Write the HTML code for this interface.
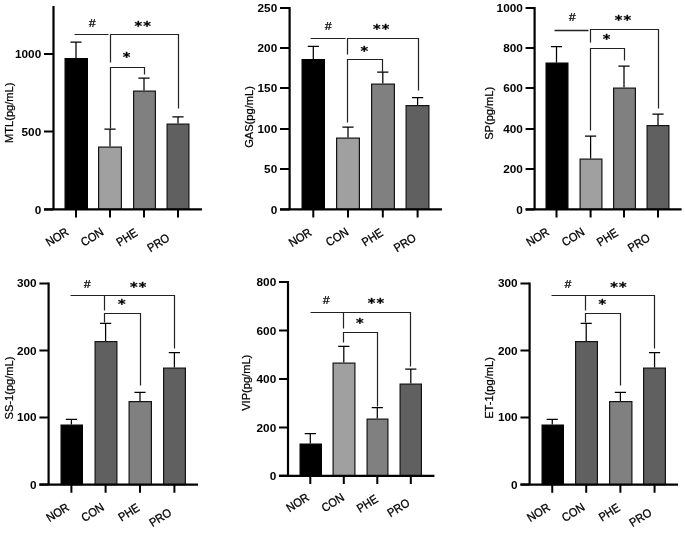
<!DOCTYPE html>
<html lang="en"><head><meta charset="utf-8"><title>Figure</title>
<style>
html,body{margin:0;padding:0;background:#fff;}
svg{display:block;}
text{font-family:"Liberation Sans",sans-serif;fill:#000;}
.yt{font-size:11.8px;font-weight:bold;}
.ti{font-size:11.1px;stroke:#000;stroke-width:0.25px;}
.xl{font-size:11.6px;stroke:#000;stroke-width:0.3px;}
.hs{font-size:10px;font-style:italic;stroke:#000;stroke-width:0.25px;}
.as{font-family:"DejaVu Sans","Liberation Sans",sans-serif;font-weight:bold;font-size:14.6px;letter-spacing:1.1px;stroke:#000;stroke-width:0.35px;}
</style></head><body>
<svg width="685" height="533" viewBox="0 0 685 533">
<rect width="685" height="533" fill="#fff"/>
<path d="M70.4 42H81.6M76 42V58" stroke="#000" stroke-width="1.25" fill="none"/>
<rect x="65.1" y="58.6" width="22.3" height="150.8" fill="#000000" stroke="#000000" stroke-width="1.2"/>
<path d="M104.4 129.2H115.6M110 129.2V146.4" stroke="#000" stroke-width="1.25" fill="none"/>
<rect x="98.6" y="147.1" width="22.8" height="62.3" fill="#a0a0a0" stroke="#141414" stroke-width="1.2"/>
<path d="M138.4 78H149.6M144 78V90.4" stroke="#000" stroke-width="1.25" fill="none"/>
<rect x="133.6" y="91.1" width="21.8" height="118.3" fill="#808080" stroke="#141414" stroke-width="1.2"/>
<path d="M172.4 116.8H183.6M178 116.8V123.4" stroke="#000" stroke-width="1.25" fill="none"/>
<rect x="167.1" y="124.1" width="21.8" height="85.3" fill="#606060" stroke="#141414" stroke-width="1.2"/>
<path d="M53.5 6V210.5M44 209.4H202" stroke="#000" stroke-width="2.2" fill="none"/>
<path d="M44 54H53.5M44 131.6H53.5M44 209.4H53.5M76 209.4V217.6M110 209.4V217.6M144 209.4V217.6M178 209.4V217.6" stroke="#000" stroke-width="2" fill="none"/>
<text class="yt" transform="translate(41.2 58.4) scale(1 0.93)" text-anchor="end">1000</text>
<text class="yt" transform="translate(41.2 136) scale(1 0.93)" text-anchor="end">500</text>
<text class="yt" transform="translate(41.2 213.8) scale(1 0.93)" text-anchor="end">0</text>
<text class="ti" transform="translate(12.8 112.75) rotate(-90)" text-anchor="middle">MTL(pg/mL)</text>
<text class="xl" transform="translate(69.5 234) rotate(-32) scale(0.94 1.03)" text-anchor="end">NOR</text>
<text class="xl" transform="translate(104.5 234) rotate(-32) scale(0.94 1.03)" text-anchor="end">CON</text>
<text class="xl" transform="translate(138.5 235) rotate(-32) scale(0.94 1.03)" text-anchor="end">PHE</text>
<text class="xl" transform="translate(170.5 240) rotate(-32) scale(0.94 1.03)" text-anchor="end">PRO</text>
<path d="M74.5 34.5H108.5" stroke="#222222" stroke-width="1.2" fill="none"/>
<path d="M110.5 62.5V34.5H178.5V108.5" stroke="#222222" stroke-width="1.2" fill="none"/>
<path d="M110.5 128.5V67.5H144.5V74.5" stroke="#222222" stroke-width="1.2" fill="none"/>
<text class="hs" transform="translate(92 26.6) scale(1.2 1.0)" text-anchor="middle">#</text>
<text class="as" transform="translate(143.25 29.6) scale(1 0.88)" text-anchor="middle">**</text>
<text class="as" transform="translate(127.05 61.1) scale(1 0.88)" text-anchor="middle">*</text>
<path d="M307.7 46.4H318.9M313.3 46.4V59" stroke="#000" stroke-width="1.25" fill="none"/>
<rect x="302.1" y="59.6" width="22.3" height="149.8" fill="#000000" stroke="#000000" stroke-width="1.2"/>
<path d="M342.4 127H353.6M348 127V137.4" stroke="#000" stroke-width="1.25" fill="none"/>
<rect x="336.6" y="138.1" width="22.8" height="71.3" fill="#a0a0a0" stroke="#141414" stroke-width="1.2"/>
<path d="M377.2 72H388.4M382.8 72V83.4" stroke="#000" stroke-width="1.25" fill="none"/>
<rect x="371.6" y="84.1" width="22.8" height="125.3" fill="#808080" stroke="#141414" stroke-width="1.2"/>
<path d="M412 97.6H423.2M417.6 97.6V105" stroke="#000" stroke-width="1.25" fill="none"/>
<rect x="406.1" y="105.6" width="22.8" height="103.8" fill="#606060" stroke="#141414" stroke-width="1.2"/>
<path d="M289.6 7V210.5M280 209.4H442" stroke="#000" stroke-width="2.2" fill="none"/>
<path d="M280 8H289.6M280 48H289.6M280 88H289.6M280 129H289.6M280 169H289.6M280 209.4H289.6M313.3 209.4V217.6M348 209.4V217.6M382.8 209.4V217.6M417.6 209.4V217.6" stroke="#000" stroke-width="2" fill="none"/>
<text class="yt" transform="translate(277.2 12.4) scale(1 0.93)" text-anchor="end">250</text>
<text class="yt" transform="translate(277.2 52.4) scale(1 0.93)" text-anchor="end">200</text>
<text class="yt" transform="translate(277.2 92.4) scale(1 0.93)" text-anchor="end">150</text>
<text class="yt" transform="translate(277.2 133.4) scale(1 0.93)" text-anchor="end">100</text>
<text class="yt" transform="translate(277.2 173.4) scale(1 0.93)" text-anchor="end">50</text>
<text class="yt" transform="translate(277.2 213.8) scale(1 0.93)" text-anchor="end">0</text>
<text class="ti" transform="translate(252.8 117) rotate(-90)" text-anchor="middle">GAS(pg/mL)</text>
<text class="xl" transform="translate(312.5 234.5) rotate(-32) scale(0.94 1.03)" text-anchor="end">NOR</text>
<text class="xl" transform="translate(349.5 234) rotate(-32) scale(0.94 1.03)" text-anchor="end">CON</text>
<text class="xl" transform="translate(384 235) rotate(-32) scale(0.94 1.03)" text-anchor="end">PHE</text>
<text class="xl" transform="translate(417 240) rotate(-32) scale(0.94 1.03)" text-anchor="end">PRO</text>
<path d="M310.5 38.5H345.5" stroke="#222222" stroke-width="1.2" fill="none"/>
<path d="M347.5 54.5V38.5H418.5V90.5" stroke="#222222" stroke-width="1.2" fill="none"/>
<path d="M347.5 122.5V59.5H382.5V72.5" stroke="#222222" stroke-width="1.2" fill="none"/>
<text class="hs" transform="translate(328.2 30) scale(1.2 1.0)" text-anchor="middle">#</text>
<text class="as" transform="translate(381.75 32.7) scale(1 0.88)" text-anchor="middle">**</text>
<text class="as" transform="translate(364.95 54.7) scale(1 0.88)" text-anchor="middle">*</text>
<path d="M550.9 46.6H562.1M556.5 46.6V62.6" stroke="#000" stroke-width="1.25" fill="none"/>
<rect x="546.1" y="63.1" width="21.8" height="146.3" fill="#000000" stroke="#000000" stroke-width="1.2"/>
<path d="M585 136H596.2M590.6 136V158.4" stroke="#000" stroke-width="1.25" fill="none"/>
<rect x="580.1" y="159.1" width="21.8" height="50.3" fill="#a0a0a0" stroke="#141414" stroke-width="1.2"/>
<path d="M618.4 66H629.6M624 66V87.6" stroke="#000" stroke-width="1.25" fill="none"/>
<rect x="613.6" y="88.1" width="21.8" height="121.3" fill="#808080" stroke="#141414" stroke-width="1.2"/>
<path d="M652.4 114H663.6M658 114V125" stroke="#000" stroke-width="1.25" fill="none"/>
<rect x="647.1" y="125.6" width="21.8" height="83.8" fill="#606060" stroke="#141414" stroke-width="1.2"/>
<path d="M534.6 7V210.5M525.6 209.4H681.6" stroke="#000" stroke-width="2.2" fill="none"/>
<path d="M525.6 8H534.6M525.6 48H534.6M525.6 88H534.6M525.6 129H534.6M525.6 169H534.6M525.6 209.4H534.6M556.5 209.4V217.6M590.6 209.4V217.6M624 209.4V217.6M658 209.4V217.6" stroke="#000" stroke-width="2" fill="none"/>
<text class="yt" transform="translate(522.8 12.4) scale(1 0.93)" text-anchor="end">1000</text>
<text class="yt" transform="translate(522.8 52.4) scale(1 0.93)" text-anchor="end">800</text>
<text class="yt" transform="translate(522.8 92.4) scale(1 0.93)" text-anchor="end">600</text>
<text class="yt" transform="translate(522.8 133.4) scale(1 0.93)" text-anchor="end">400</text>
<text class="yt" transform="translate(522.8 173.4) scale(1 0.93)" text-anchor="end">200</text>
<text class="yt" transform="translate(522.8 213.8) scale(1 0.93)" text-anchor="end">0</text>
<text class="ti" transform="translate(493.3 113.3) rotate(-90)" text-anchor="middle">SP(pg/mL)</text>
<text class="xl" transform="translate(550 234) rotate(-32) scale(0.94 1.03)" text-anchor="end">NOR</text>
<text class="xl" transform="translate(585.5 234) rotate(-32) scale(0.94 1.03)" text-anchor="end">CON</text>
<text class="xl" transform="translate(619 235) rotate(-32) scale(0.94 1.03)" text-anchor="end">PHE</text>
<text class="xl" transform="translate(651 240) rotate(-32) scale(0.94 1.03)" text-anchor="end">PRO</text>
<path d="M554.5 30.5H588.5" stroke="#222222" stroke-width="1.5" fill="none"/>
<path d="M590.5 42.5V29.5H658.5V108.5" stroke="#222222" stroke-width="1.2" fill="none"/>
<path d="M590.5 130.5V48.5H624.5V60.5" stroke="#222222" stroke-width="1.2" fill="none"/>
<text class="hs" transform="translate(572 21) scale(1.2 1.0)" text-anchor="middle">#</text>
<text class="as" transform="translate(623.45 24.3) scale(1 0.88)" text-anchor="middle">**</text>
<text class="as" transform="translate(607.15 43.3) scale(1 0.88)" text-anchor="middle">*</text>
<path d="M65.8 419.4H77M71.4 419.4V424.6" stroke="#000" stroke-width="1.25" fill="none"/>
<rect x="61.1" y="425.1" width="21.3" height="59.5" fill="#000000" stroke="#000000" stroke-width="1.2"/>
<path d="M100 323.4H111.2M105.6 323.4V341" stroke="#000" stroke-width="1.25" fill="none"/>
<rect x="95.1" y="341.6" width="21.8" height="143" fill="#606060" stroke="#141414" stroke-width="1.2"/>
<path d="M134.4 392.4H145.6M140 392.4V401" stroke="#000" stroke-width="1.25" fill="none"/>
<rect x="129.1" y="401.6" width="22.3" height="83" fill="#808080" stroke="#141414" stroke-width="1.2"/>
<path d="M168.8 352.6H180M174.4 352.6V367.5" stroke="#000" stroke-width="1.25" fill="none"/>
<rect x="163.6" y="368.1" width="21.8" height="116.5" fill="#606060" stroke="#141414" stroke-width="1.2"/>
<path d="M48.6 282.4V485.7M39.4 484.6H198" stroke="#000" stroke-width="2.2" fill="none"/>
<path d="M39.4 283.4H48.6M39.4 350.6H48.6M39.4 417.4H48.6M39.4 484.6H48.6M71.4 484.6V492.8M105.6 484.6V492.8M140 484.6V492.8M174.4 484.6V492.8" stroke="#000" stroke-width="2" fill="none"/>
<text class="yt" transform="translate(36.6 287.3) scale(1 0.93)" text-anchor="end">300</text>
<text class="yt" transform="translate(36.6 354.5) scale(1 0.93)" text-anchor="end">200</text>
<text class="yt" transform="translate(36.6 421.3) scale(1 0.93)" text-anchor="end">100</text>
<text class="yt" transform="translate(36.6 488.5) scale(1 0.93)" text-anchor="end">0</text>
<text class="ti" transform="translate(13.1 388) rotate(-90)" text-anchor="middle">SS-1(pg/mL)</text>
<text class="xl" transform="translate(70 509.5) rotate(-32) scale(0.94 1.03)" text-anchor="end">NOR</text>
<text class="xl" transform="translate(105 509.3) rotate(-32) scale(0.94 1.03)" text-anchor="end">CON</text>
<text class="xl" transform="translate(140.5 510) rotate(-32) scale(0.94 1.03)" text-anchor="end">PHE</text>
<text class="xl" transform="translate(172.4 514.8) rotate(-32) scale(0.94 1.03)" text-anchor="end">PRO</text>
<path d="M70.5 295.5H174.5V348.5" stroke="#222222" stroke-width="1.2" fill="none"/>
<path d="M104.5 295.5V310.5" stroke="#222222" stroke-width="1.2" fill="none"/>
<path d="M104.5 322.5V313.5H140.5V385.5" stroke="#222222" stroke-width="1.2" fill="none"/>
<text class="hs" transform="translate(87.2 288) scale(1.2 1.0)" text-anchor="middle">#</text>
<text class="as" transform="translate(138.65 290.7) scale(1 0.88)" text-anchor="middle">**</text>
<text class="as" transform="translate(122.25 308.3) scale(1 0.88)" text-anchor="middle">*</text>
<path d="M304.7 433.6H315.9M310.3 433.6V443.4" stroke="#000" stroke-width="1.25" fill="none"/>
<rect x="300.1" y="444.1" width="21.3" height="31.7" fill="#000000" stroke="#000000" stroke-width="1.2"/>
<path d="M338.2 346.4H349.4M343.8 346.4V362.6" stroke="#000" stroke-width="1.25" fill="none"/>
<rect x="333.1" y="363.1" width="21.8" height="112.7" fill="#a0a0a0" stroke="#141414" stroke-width="1.2"/>
<path d="M371.7 407.6H382.9M377.3 407.6V418.4" stroke="#000" stroke-width="1.25" fill="none"/>
<rect x="367.1" y="419.1" width="20.8" height="56.7" fill="#808080" stroke="#141414" stroke-width="1.2"/>
<path d="M405.2 369H416.4M410.8 369V383.4" stroke="#000" stroke-width="1.25" fill="none"/>
<rect x="400.1" y="384.1" width="21.3" height="91.7" fill="#606060" stroke="#141414" stroke-width="1.2"/>
<path d="M288 281V476.9M279 475.8H434.4" stroke="#000" stroke-width="2.2" fill="none"/>
<path d="M279 282H288M279 330.4H288M279 379H288M279 427.6H288M279 475.8H288M310.3 475.8V484M343.8 475.8V484M377.3 475.8V484M410.8 475.8V484" stroke="#000" stroke-width="2" fill="none"/>
<text class="yt" transform="translate(276.2 286.4) scale(1 0.93)" text-anchor="end">800</text>
<text class="yt" transform="translate(276.2 334.8) scale(1 0.93)" text-anchor="end">600</text>
<text class="yt" transform="translate(276.2 383.4) scale(1 0.93)" text-anchor="end">400</text>
<text class="yt" transform="translate(276.2 432) scale(1 0.93)" text-anchor="end">200</text>
<text class="yt" transform="translate(276.2 480.2) scale(1 0.93)" text-anchor="end">0</text>
<text class="ti" transform="translate(250.2 382.8) rotate(-90)" text-anchor="middle">VIP(pg/mL)</text>
<text class="xl" transform="translate(310 499.6) rotate(-32) scale(0.94 1.03)" text-anchor="end">NOR</text>
<text class="xl" transform="translate(345.2 499.6) rotate(-32) scale(0.94 1.03)" text-anchor="end">CON</text>
<text class="xl" transform="translate(378.9 501.2) rotate(-32) scale(0.94 1.03)" text-anchor="end">PHE</text>
<text class="xl" transform="translate(410.6 505) rotate(-32) scale(0.94 1.03)" text-anchor="end">PRO</text>
<path d="M310.5 312.5H410.5V366.5" stroke="#222222" stroke-width="1.2" fill="none"/>
<path d="M343.5 312.5V328.5" stroke="#222222" stroke-width="1.2" fill="none"/>
<path d="M343.5 342.5V332.5H377.5V406.5" stroke="#222222" stroke-width="1.2" fill="none"/>
<text class="hs" transform="translate(326.2 304.4) scale(1.2 1.0)" text-anchor="middle">#</text>
<text class="as" transform="translate(376.45 307.3) scale(1 0.88)" text-anchor="middle">**</text>
<text class="as" transform="translate(360.45 327.3) scale(1 0.88)" text-anchor="middle">*</text>
<path d="M546.65 419.4H557.85M552.25 419.4V424.6" stroke="#000" stroke-width="1.25" fill="none"/>
<rect x="542.1" y="425.1" width="21.3" height="59.5" fill="#000000" stroke="#000000" stroke-width="1.2"/>
<path d="M580.62 323.4H591.82M586.22 323.4V341" stroke="#000" stroke-width="1.25" fill="none"/>
<rect x="575.6" y="341.6" width="21.8" height="143" fill="#606060" stroke="#141414" stroke-width="1.2"/>
<path d="M614.79 392.4H625.99M620.39 392.4V401" stroke="#000" stroke-width="1.25" fill="none"/>
<rect x="609.6" y="401.6" width="22.3" height="83" fill="#808080" stroke="#141414" stroke-width="1.2"/>
<path d="M648.96 352.6H660.16M654.56 352.6V367.5" stroke="#000" stroke-width="1.25" fill="none"/>
<rect x="643.6" y="368.1" width="21.8" height="116.5" fill="#606060" stroke="#141414" stroke-width="1.2"/>
<path d="M529.6 282.4V485.7M520.46 484.6H678" stroke="#000" stroke-width="2.2" fill="none"/>
<path d="M520.46 283.4H529.6M520.46 350.6H529.6M520.46 417.4H529.6M520.46 484.6H529.6M552.25 484.6V492.8M586.22 484.6V492.8M620.39 484.6V492.8M654.56 484.6V492.8" stroke="#000" stroke-width="2" fill="none"/>
<text class="yt" transform="translate(517.66 287.3) scale(1 0.93)" text-anchor="end">300</text>
<text class="yt" transform="translate(517.66 354.5) scale(1 0.93)" text-anchor="end">200</text>
<text class="yt" transform="translate(517.66 421.3) scale(1 0.93)" text-anchor="end">100</text>
<text class="yt" transform="translate(517.66 488.5) scale(1 0.93)" text-anchor="end">0</text>
<text class="ti" transform="translate(493.2 388) rotate(-90)" text-anchor="middle">ET-1(pg/mL)</text>
<text class="xl" transform="translate(550.86 509.5) rotate(-32) scale(0.94 1.03)" text-anchor="end">NOR</text>
<text class="xl" transform="translate(585.62 509.3) rotate(-32) scale(0.94 1.03)" text-anchor="end">CON</text>
<text class="xl" transform="translate(620.88 510) rotate(-32) scale(0.94 1.03)" text-anchor="end">PHE</text>
<text class="xl" transform="translate(652.57 514.8) rotate(-32) scale(0.94 1.03)" text-anchor="end">PRO</text>
<path d="M551.5 295.5H654.5V348.5" stroke="#222222" stroke-width="1.2" fill="none"/>
<path d="M585.5 295.5V310.5" stroke="#222222" stroke-width="1.2" fill="none"/>
<path d="M585.5 322.5V313.5H620.5V385.5" stroke="#222222" stroke-width="1.2" fill="none"/>
<text class="hs" transform="translate(567.94 288) scale(1.2 1.0)" text-anchor="middle">#</text>
<text class="as" transform="translate(619.05 290.7) scale(1 0.88)" text-anchor="middle">**</text>
<text class="as" transform="translate(602.76 308.3) scale(1 0.88)" text-anchor="middle">*</text>
</svg>
</body></html>
